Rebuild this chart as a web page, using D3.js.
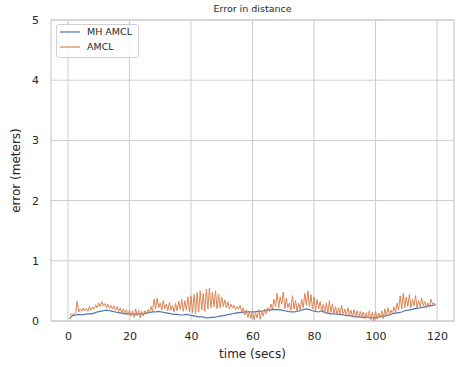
<!DOCTYPE html>
<html><head><meta charset="utf-8">
<script src="https://cdn.jsdelivr.net/npm/d3@7"></script>
<style>body{margin:0;background:#fff}svg{display:block;font-family:"DejaVu Sans",sans-serif}</style>
</head><body><svg id="c" width="456" height="367"></svg>
<script>
const title = "Error in distance";
const xLabel = "time (secs)";
const yLabel = "error (meters)";
const seriesNames = ["MH AMCL", "AMCL"];
const seriesColors = ["#4c72b0", "#dd8452"];
const xTicks = [0, 20, 40, 60, 80, 100, 120];
const yTicks = [0, 1, 2, 3, 4, 5];
// MH AMCL, sampled every 1 s starting at t = 0.5
const mhStart = 0.5, mhStep = 1;
const mhAmcl = [
0.04,0.09,0.10,0.11,0.10,0.11,0.12,0.12,0.13,0.15,
0.16,0.17,0.18,0.17,0.16,0.15,0.14,0.13,0.12,0.12,
0.12,0.11,0.11,0.12,0.12,0.13,0.14,0.15,0.15,0.16,
0.15,0.14,0.13,0.12,0.11,0.11,0.10,0.10,0.11,0.10,
0.09,0.08,0.07,0.07,0.06,0.05,0.06,0.06,0.07,0.08,
0.09,0.10,0.11,0.12,0.13,0.14,0.14,0.15,0.15,0.15,
0.15,0.16,0.16,0.17,0.18,0.18,0.19,0.19,0.19,0.18,
0.17,0.16,0.15,0.15,0.16,0.17,0.19,0.20,0.19,0.17,
0.16,0.15,0.17,0.14,0.13,0.12,0.12,0.11,0.11,0.10,
0.09,0.09,0.08,0.07,0.07,0.06,0.06,0.06,0.05,0.05,
0.06,0.07,0.08,0.09,0.10,0.12,0.13,0.14,0.15,0.17,
0.18,0.19,0.20,0.21,0.22,0.23,0.24,0.25,0.26,0.27];
// AMCL, sampled every 0.5 s starting at t = 0.5
const amclStart = 0.5, amclStep = 0.5;
const amcl = [
0.10,0.11,0.12,0.11,0.13,0.33,0.15,0.20,0.16,0.22,
0.17,0.21,0.16,0.24,0.18,0.23,0.20,0.27,0.22,0.30,
0.24,0.32,0.25,0.29,0.22,0.28,0.21,0.26,0.20,0.25,
0.18,0.24,0.16,0.22,0.14,0.20,0.12,0.19,0.10,0.18,
0.08,0.17,0.06,0.20,0.09,0.18,0.05,0.16,0.08,0.17,
0.12,0.19,0.14,0.24,0.16,0.36,0.20,0.38,0.22,0.30,
0.18,0.34,0.20,0.28,0.17,0.31,0.18,0.26,0.15,0.29,
0.17,0.33,0.19,0.36,0.16,0.34,0.18,0.40,0.15,0.42,
0.14,0.44,0.12,0.47,0.15,0.50,0.18,0.46,0.16,0.53,
0.20,0.55,0.22,0.48,0.24,0.50,0.20,0.44,0.22,0.40,
0.24,0.35,0.22,0.32,0.20,0.28,0.22,0.26,0.19,0.24,
0.20,0.26,0.14,0.22,0.10,0.18,0.06,0.15,0.04,0.17,
0.02,0.14,0.05,0.19,0.03,0.16,0.08,0.20,0.12,0.22,
0.16,0.28,0.20,0.36,0.24,0.46,0.22,0.40,0.28,0.48,
0.20,0.38,0.22,0.30,0.18,0.42,0.20,0.34,0.15,0.30,
0.18,0.36,0.22,0.46,0.26,0.50,0.24,0.44,0.20,0.40,
0.18,0.36,0.20,0.32,0.16,0.28,0.14,0.30,0.12,0.34,
0.14,0.28,0.12,0.24,0.10,0.22,0.12,0.26,0.10,0.20,
0.08,0.22,0.10,0.18,0.06,0.19,0.08,0.17,0.05,0.16,
0.06,0.15,0.04,0.14,0.05,0.17,0.02,0.15,0.00,0.16,
0.03,0.13,0.06,0.17,0.04,0.20,0.08,0.22,0.10,0.18,
0.12,0.24,0.14,0.30,0.18,0.42,0.20,0.46,0.22,0.40,
0.24,0.44,0.22,0.36,0.25,0.42,0.22,0.34,0.24,0.38,
0.26,0.32,0.22,0.30,0.24,0.36,0.28,0.30,0.26];

const svg = d3.select("#c");
const L = 51, R = 454, T = 20, B = 321;
const x = d3.scaleLinear().domain([-5.5, 125.5]).range([L, R]);
const y = d3.scaleLinear().domain([0, 5]).range([B, T]);
const grid = "#cccccc", txt = "#262626";

// grid
svg.append("g").selectAll("line").data(xTicks).join("line")
  .attr("x1", d => x(d)).attr("x2", d => x(d)).attr("y1", T).attr("y2", B)
  .attr("stroke", grid).attr("stroke-width", 1);
svg.append("g").selectAll("line").data(yTicks).join("line")
  .attr("y1", d => y(d)).attr("y2", d => y(d)).attr("x1", L).attr("x2", R)
  .attr("stroke", grid).attr("stroke-width", 1);
svg.append("rect").attr("x", L).attr("y", T).attr("width", R - L).attr("height", B - T)
  .attr("fill", "none").attr("stroke", grid).attr("stroke-width", 1.25);

// axes
const xAxis = svg.append("g").attr("transform", `translate(0,${B})`)
  .call(d3.axisBottom(x).tickValues(xTicks).tickFormat(d3.format("d")).tickSize(0).tickPadding(11));
const yAxis = svg.append("g").attr("transform", `translate(${L},0)`)
  .call(d3.axisLeft(y).tickValues(yTicks).tickFormat(d3.format("d")).tickSize(0).tickPadding(12));
[xAxis, yAxis].forEach(a => {
  a.select(".domain").remove();
  a.selectAll("text").attr("font-size", 11).attr("fill", txt).attr("font-family", "DejaVu Sans");
});

// lines
const lineMH = d3.line().x((d, i) => x(mhStart + i * mhStep)).y(d => y(d));
const lineA = d3.line().x((d, i) => x(amclStart + i * amclStep)).y(d => y(d));
svg.append("path").datum(mhAmcl).attr("d", lineMH).attr("fill", "none")
  .attr("stroke", seriesColors[0]).attr("stroke-width", 1.2);
svg.append("path").datum(amcl).attr("d", lineA).attr("fill", "none")
  .attr("stroke", seriesColors[1]).attr("stroke-width", 1);

// labels
svg.append("text").attr("x", (L + R) / 2).attr("y", 12).attr("text-anchor", "middle")
  .attr("font-size", 9.5).attr("fill", txt).text(title);
svg.append("text").attr("x", (L + R) / 2).attr("y", 358).attr("text-anchor", "middle")
  .attr("font-size", 12).attr("fill", txt).text(xLabel);
svg.append("text").attr("transform", `translate(20,${(T + B) / 2}) rotate(-90)`)
  .attr("text-anchor", "middle").attr("font-size", 12).attr("fill", txt).text(yLabel);

// legend
const lg = svg.append("g");
lg.append("rect").attr("x", 56.5).attr("y", 24.5).attr("width", 82).attr("height", 33)
  .attr("rx", 2).attr("fill", "#fff").attr("fill-opacity", 0.8).attr("stroke", "#d0d0d0");
seriesNames.forEach((n, i) => {
  const yy = 32 + i * 15;
  lg.append("line").attr("x1", 60).attr("x2", 80).attr("y1", yy).attr("y2", yy)
    .attr("stroke", seriesColors[i]).attr("stroke-width", 1.2);
  lg.append("text").attr("x", 87).attr("y", yy + 3.3).attr("font-size", 9.5)
    .attr("fill", txt).text(n);
});
</script></body></html>
